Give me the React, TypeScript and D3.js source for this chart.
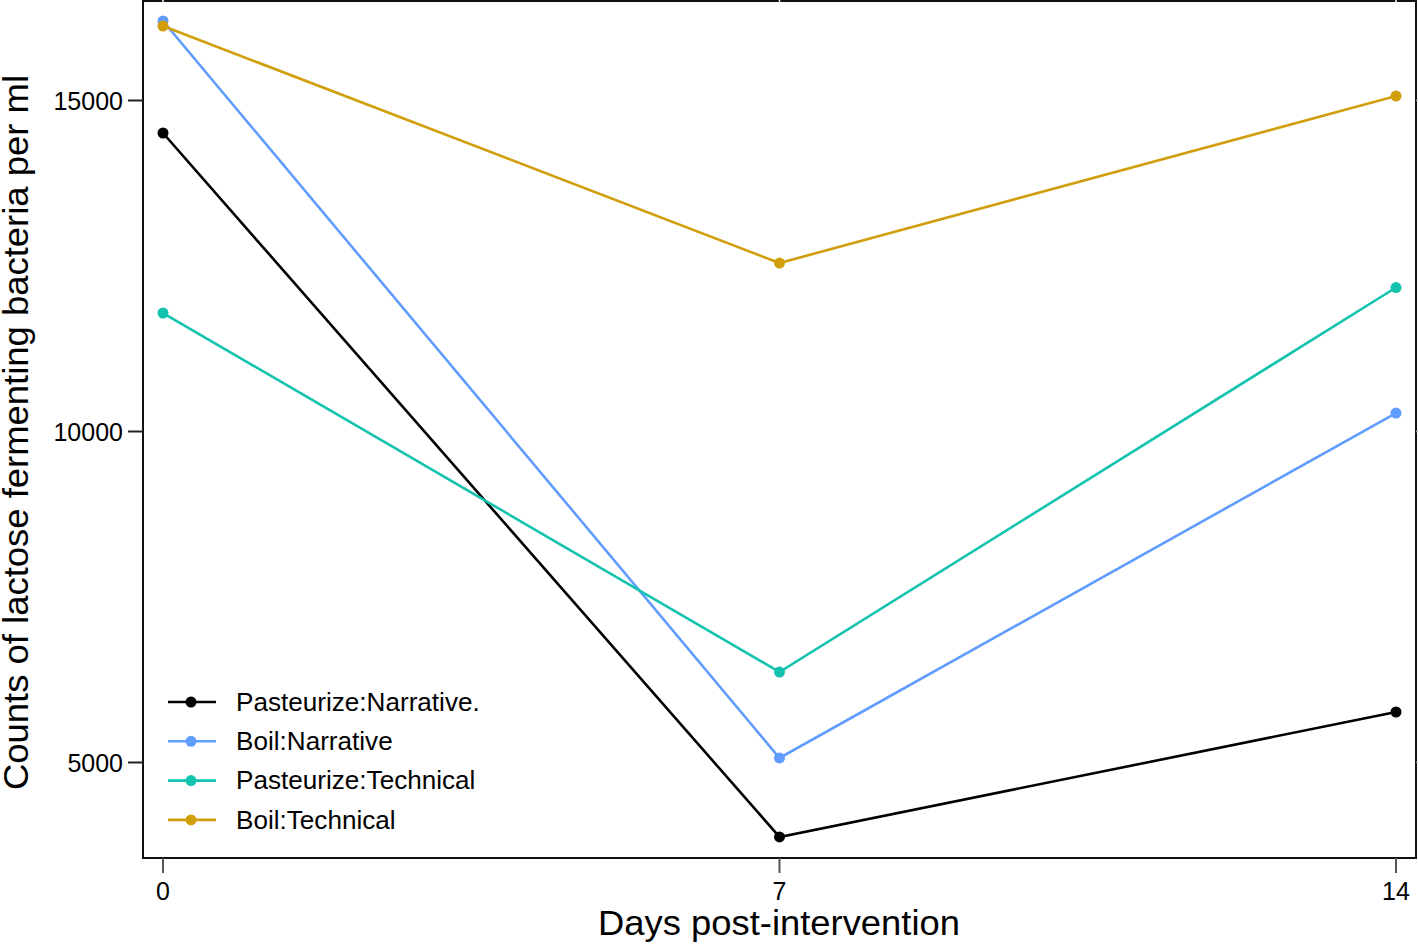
import React from "react";
import * as d3 from "d3";

const days = [0, 7, 14];
const seriesNames = ["Pasteurize:Narrative.", "Boil:Narrative", "Pasteurize:Technical", "Boil:Technical"];
const seriesColors = ["#000000", "#619CFF", "#14C3AE", "#D19E0C"];
const pasteurizeNarrative = [14509, 3875, 5763];
const boilNarrative = [16201, 5068, 10279];
const pasteurizeTechnical = [11790, 6367, 12175];
const boilTechnical = [16125, 12545, 15068];
const yTicks = [5000, 10000, 15000];
const xTicks = [0, 7, 14];

const W = 1418, H = 945;
const L = 143, R = 1416, T = 0, B = 858;

export default function App() {
  const x = d3.scaleLinear().domain([0, 14]).range([163, 1396]);
  const y = d3.scaleLinear().domain([5000, 15000]).range([762.5, 100.5]);
  const allSeries = [pasteurizeNarrative, boilNarrative, pasteurizeTechnical, boilTechnical];
  const line = d3.line<number>().x((_, i) => x(days[i])).y((d) => y(d));
  const font = "Liberation Sans, Arial, sans-serif";
  return (
    <svg width={W} height={H} style={{ position: "absolute", left: 0, top: 0, background: "#fff" }} fontFamily={font}>
      <rect x={0} y={0} width={W} height={H} fill="#fff" />
      {/* frame */}
      <rect x={L} y={T + 1} width={R - L} height={B - T - 1} fill="none" stroke="#111" strokeWidth={2} />
      {/* x ticks */}
      {xTicks.map((t) => (
        <g key={"x" + t}>
          <line x1={x(t)} x2={x(t)} y1={B} y2={B + 15} stroke="#555" strokeWidth={2} />
          <line x1={x(t)} x2={x(t)} y1={0} y2={4} stroke="#fff" strokeWidth={1.5} />
          <text x={x(t)} y={900} textAnchor="middle" fontSize={25} fill="#000">{t}</text>
        </g>
      ))}
      {/* y ticks */}
      {yTicks.map((t) => (
        <g key={"y" + t}>
          <line x1={L - 15} x2={L} y1={y(t)} y2={y(t)} stroke="#222" strokeWidth={2} />
          <line x1={R} x2={W} y1={y(t)} y2={y(t)} stroke="#aaa" strokeWidth={1.5} />
          <text x={123} y={y(t) + 9} textAnchor="end" fontSize={25} fill="#000">{t}</text>
        </g>
      ))}
      {/* series */}
      {allSeries.map((s, k) => (
        <g key={"s" + k}>
          <path d={line(s) || ""} fill="none" stroke={seriesColors[k]} strokeWidth={2.6} />
          {s.map((v, i) => (
            <circle key={i} cx={x(days[i])} cy={y(v)} r={5.5} fill={seriesColors[k]} />
          ))}
        </g>
      ))}
      {/* legend */}
      {seriesNames.map((n, k) => {
        const ly = 702 + k * 39.3;
        return (
          <g key={"l" + k}>
            <line x1={168} x2={216} y1={ly} y2={ly} stroke={seriesColors[k]} strokeWidth={2.6} />
            <circle cx={191} cy={ly} r={5.5} fill={seriesColors[k]} />
            <text transform={`translate(236,${ly + 8.8}) scale(1.045,1)`} fontSize={25} fill="#000">{n}</text>
          </g>
        );
      })}
      {/* axis titles */}
      <text x={598} y={935} fontSize={35} fill="#000" textLength={362} lengthAdjust="spacingAndGlyphs">Days post-intervention</text>
      <text transform="translate(28,790) rotate(-90)" fontSize={35.5} fill="#000" textLength={715} lengthAdjust="spacingAndGlyphs">
        Counts of lactose fermenting bacteria per ml
      </text>
    </svg>
  );
}
